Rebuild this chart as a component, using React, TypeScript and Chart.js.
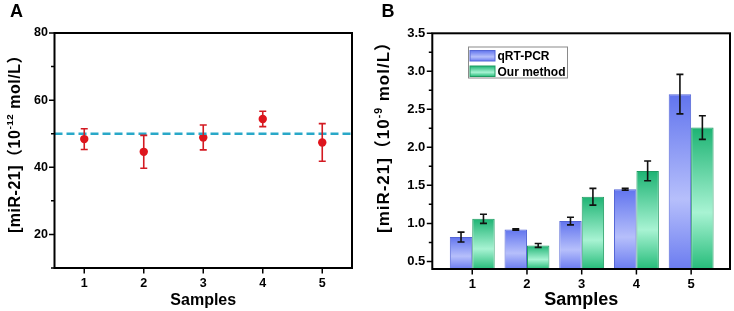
import React, { useEffect, useRef } from 'react';
import { Chart, registerables } from 'chart.js';

Chart.register(...registerables);

const FONT = '"Liberation Sans", Arial, Helvetica, "Noto Sans CJK SC", sans-serif';

// ---------- data ----------
const sampleLabels = [1, 2, 3, 4, 5];

// Panel A
const aMeasured = [48.4, 44.6, 48.9, 54.4, 47.4];
const aError = [3.1, 4.9, 3.7, 2.3, 5.6];
const aReference = 50;
const aYTicks = [20, 40, 60, 80];
const aYMinor = [10, 30, 50, 70];
const aXRange = [0.5, 5.5];
const aYRange = [10, 80];

// Panel B
const bSeriesNames = ['qRT-PCR', 'Our method'];
const bQrt = [0.82, 0.92, 1.03, 1.45, 2.7];
const bQrtErr = [0.065, 0.01, 0.05, 0.012, 0.26];
const bOurs = [1.06, 0.71, 1.35, 1.69, 2.26];
const bOursErr = [0.06, 0.025, 0.11, 0.13, 0.155];
const bYTicks = [0.5, 1.0, 1.5, 2.0, 2.5, 3.0, 3.5];
const bYMinor = [0.75, 1.25, 1.75, 2.25, 2.75, 3.25];
const bXRange = [0.27, 5.71];
const bYRange = [0.4, 3.5];

const blueStops: [number, string][] = [[0, '#6174ee'], [0.6, '#b6bffb'], [1, '#6b7cf0']];
const greenStops: [number, string][] = [[0, '#1db373'], [0.6, '#a8f3d3'], [1, '#26bc7a']];

// ---------- helpers ----------
function grad(ctx: CanvasRenderingContext2D, y0: number, y1: number, stops: [number, string][]) {
  const g = ctx.createLinearGradient(0, y0, 0, y1);
  stops.forEach(([o, c]) => g.addColorStop(o, c));
  return g;
}

function drawYTitle(
  ctx: CanvasRenderingContext2D,
  parts: { text: string; sup?: boolean }[],
  baselineX: number,
  bottomY: number,
  targetLen: number,
  size: number,
  supSize: number
) {
  ctx.save();
  ctx.translate(baselineX, bottomY);
  ctx.rotate(-Math.PI / 2);
  ctx.fillStyle = '#000';
  ctx.textBaseline = 'alphabetic';
  ctx.textAlign = 'left';
  let natural = 0;
  let chars = 0;
  parts.forEach((p) => {
    ctx.font = `bold ${p.sup ? supSize : size}px ${FONT}`;
    natural += ctx.measureText(p.text).width;
    chars += p.text.length;
  });
  const spacing = Math.max(0, (targetLen - natural) / chars);
  let x = 0;
  parts.forEach((p) => {
    ctx.font = `bold ${p.sup ? supSize : size}px ${FONT}`;
    const w = ctx.measureText(p.text).width;
    (ctx as any).letterSpacing = `${spacing}px`;
    ctx.fillText(p.text, x, p.sup ? -size * 0.42 : 0);
    (ctx as any).letterSpacing = '0px';
    x += w + spacing * p.text.length;
  });
  ctx.restore();
}

function framePlugin(cfg: {
  yMajor: number[];
  yMinor: number[];
  xMajor: number[];
  panel: string;
  panelX: number;
  xTitleSize: number;
  yParts: { text: string; sup?: boolean }[];
  yTitleX: number;
  yTitleBottom: number;
  yTitleLen: number;
  yTitleSize: number;
}) {
  return {
    id: 'frameAndText',
    afterDraw(chart: any) {
      const { ctx, chartArea: a, scales } = chart;
      ctx.save();
      ctx.strokeStyle = '#000';
      ctx.lineWidth = 2;
      ctx.strokeRect(a.left, a.top, a.right - a.left, a.bottom - a.top);
      ctx.lineWidth = 1.5;
      ctx.beginPath();
      cfg.yMajor.forEach((v) => {
        const py = scales.y.getPixelForValue(v);
        ctx.moveTo(a.left - 5.5, py);
        ctx.lineTo(a.left, py);
      });
      cfg.yMinor.forEach((v) => {
        const py = scales.y.getPixelForValue(v);
        ctx.moveTo(a.left - 3.5, py);
        ctx.lineTo(a.left, py);
      });
      cfg.xMajor.forEach((v) => {
        const px = scales.x.getPixelForValue(v);
        ctx.moveTo(px, a.bottom);
        ctx.lineTo(px, a.bottom + 5.5);
      });
      ctx.stroke();

      // panel letter
      ctx.fillStyle = '#000';
      ctx.font = `bold 18px ${FONT}`;
      ctx.textAlign = 'left';
      ctx.textBaseline = 'alphabetic';
      ctx.fillText(cfg.panel, cfg.panelX, 17);

      // x title
      ctx.font = `bold ${cfg.xTitleSize}px ${FONT}`;
      ctx.textAlign = 'center';
      ctx.fillText('Samples', (a.left + a.right) / 2, 304.5);
      ctx.restore();

      drawYTitle(ctx, cfg.yParts, cfg.yTitleX, cfg.yTitleBottom, cfg.yTitleLen, cfg.yTitleSize, cfg.yTitleSize * 0.62);
    },
  };
}

function errorBarPlugin(color: string, width: number, cap: number) {
  return {
    id: 'errorBars',
    afterDatasetsDraw(chart: any) {
      const { ctx, scales } = chart;
      ctx.save();
      ctx.strokeStyle = color;
      ctx.lineWidth = width;
      chart.data.datasets.forEach((ds: any, di: number) => {
        if (!ds.errors) return;
        const meta = chart.getDatasetMeta(di);
        meta.data.forEach((el: any, i: number) => {
          const v = ds.data[i].y;
          const e = ds.errors[i];
          const yt = scales.y.getPixelForValue(v + e);
          const yb = scales.y.getPixelForValue(v - e);
          const x = el.x;
          ctx.beginPath();
          ctx.moveTo(x, yt);
          ctx.lineTo(x, yb);
          ctx.moveTo(x - cap, yt);
          ctx.lineTo(x + cap, yt);
          ctx.moveTo(x - cap, yb);
          ctx.lineTo(x + cap, yb);
          ctx.stroke();
        });
      });
      ctx.restore();
    },
  };
}

const legendPlugin = {
  id: 'boxLegend',
  afterDraw(chart: any) {
    const { ctx } = chart;
    const box = { x: 101.5, y: 47, w: 99, h: 31 };
    ctx.save();
    ctx.fillStyle = '#fff';
    ctx.fillRect(box.x, box.y, box.w, box.h);
    ctx.strokeStyle = '#8a8a8a';
    ctx.lineWidth = 1;
    ctx.strokeRect(box.x, box.y, box.w, box.h);
    const rows = [
      { y: 50.5, stops: blueStops, border: '#5566d6' },
      { y: 66, stops: greenStops, border: '#1f9c62' },
    ];
    rows.forEach((r, i) => {
      ctx.fillStyle = grad(ctx, r.y, r.y + 10.5, r.stops);
      ctx.fillRect(103, r.y, 25, 10.5);
      ctx.strokeStyle = r.border;
      ctx.strokeRect(103, r.y, 25, 10.5);
      ctx.fillStyle = '#000';
      ctx.font = `bold 12px ${FONT}`;
      ctx.textAlign = 'left';
      ctx.textBaseline = 'alphabetic';
      ctx.fillText(bSeriesNames[i], 130.5, r.y + 9.5);
    });
    ctx.restore();
  },
};

const tickFont = (size: number) => ({ family: FONT, size, weight: 'bold' as const });

function PanelA() {
  const ref = useRef<HTMLCanvasElement>(null);
  useEffect(() => {
    const chart = new Chart(ref.current as HTMLCanvasElement, {
      type: 'scatter',
      data: {
        datasets: [
          {
            type: 'line',
            data: aXRange.map((x) => ({ x, y: aReference })),
            borderColor: '#29a8c8',
            borderWidth: 2.5,
            borderDash: [8, 4],
            pointRadius: 0,
            fill: false,
          } as any,
          {
            data: sampleLabels.map((s, i) => ({ x: s, y: aMeasured[i] })),
            errors: aError,
            backgroundColor: '#e2141c',
            borderColor: '#e2141c',
            pointRadius: 4.2,
            pointBorderWidth: 0,
          } as any,
        ],
      },
      options: {
        animation: false,
        responsive: false,
        layout: { padding: { top: 33, right: 15, left: 0, bottom: 0 } },
        plugins: { legend: { display: false }, tooltip: { enabled: false } },
        scales: {
          x: {
            type: 'linear',
            min: aXRange[0],
            max: aXRange[1],
            afterBuildTicks: (s: any) => {
              s.ticks = sampleLabels.map((v) => ({ value: v }));
            },
            afterFit: (s: any) => {
              s.height = 43;
            },
            grid: { display: false, drawTicks: false },
            border: { display: false },
            ticks: { padding: 8, color: '#000', font: tickFont(12.5), callback: (v: any) => String(v) },
          },
          y: {
            min: aYRange[0],
            max: aYRange[1],
            afterBuildTicks: (s: any) => {
              s.ticks = aYTicks.map((v) => ({ value: v }));
            },
            afterFit: (s: any) => {
              s.width = 54.5;
            },
            grid: { display: false, drawTicks: false },
            border: { display: false },
            ticks: { padding: 6.5, color: '#000', font: tickFont(12.5), callback: (v: any) => String(v) },
          },
        },
      },
      plugins: [
        errorBarPlugin('#d31a22', 1.6, 3.5),
        framePlugin({
          yMajor: aYTicks,
          yMinor: aYMinor,
          xMajor: sampleLabels,
          panel: 'A',
          panelX: 10,
          xTitleSize: 16,
          yParts: [{ text: '[miR-21]（10' }, { text: '-12', sup: true }, { text: ' mol/L）' }],
          yTitleX: 19.5,
          yTitleBottom: 233,
          yTitleLen: 186,
          yTitleSize: 16,
        }),
      ],
    });
    return () => chart.destroy();
  }, []);
  return <canvas ref={ref} width={367} height={311} style={{ position: 'absolute', left: 0, top: 0 }} />;
}

function PanelB() {
  const ref = useRef<HTMLCanvasElement>(null);
  useEffect(() => {
    const barBg = (stops: [number, string][], fallback: string) => (c: any) => {
      const chart = c.chart;
      if (!chart.chartArea || c.type !== 'data' || !chart.scales.y) return fallback;
      const y = chart.scales.y;
      const top = y.getPixelForValue(c.raw.y);
      const bot = y.getPixelForValue(bYRange[0]);
      return grad(chart.ctx, top, bot, stops);
    };
    const chart = new Chart(ref.current as HTMLCanvasElement, {
      type: 'bar',
      data: {
        datasets: [
          {
            label: bSeriesNames[0],
            data: sampleLabels.map((s, i) => ({ x: s, y: bQrt[i] })),
            errors: bQrtErr,
            base: bYRange[0],
            backgroundColor: barBg(blueStops, '#8d9bf3'),
            borderColor: '#5566d6',
            borderWidth: 1,
            categoryPercentage: 0.82,
            barPercentage: 1.0,
          } as any,
          {
            label: bSeriesNames[1],
            data: sampleLabels.map((s, i) => ({ x: s, y: bOurs[i] })),
            errors: bOursErr,
            base: bYRange[0],
            backgroundColor: barBg(greenStops, '#5fd6a0'),
            borderColor: '#1f9c62',
            borderWidth: 1,
            categoryPercentage: 0.82,
            barPercentage: 1.0,
          } as any,
        ],
      },
      options: {
        animation: false,
        responsive: false,
        layout: { padding: { top: 33.3, right: 4, left: 0, bottom: 0 } },
        plugins: { legend: { display: false }, tooltip: { enabled: false } },
        scales: {
          x: {
            type: 'linear',
            min: bXRange[0],
            max: bXRange[1],
            offset: false,
            afterBuildTicks: (s: any) => {
              s.ticks = sampleLabels.map((v) => ({ value: v }));
            },
            afterFit: (s: any) => {
              s.height = 42;
            },
            grid: { display: false, drawTicks: false, offset: false },
            border: { display: false },
            ticks: { padding: 8, color: '#000', font: tickFont(13), callback: (v: any) => String(v) },
          },
          y: {
            type: 'linear',
            min: bYRange[0],
            max: bYRange[1],
            afterBuildTicks: (s: any) => {
              s.ticks = bYTicks.map((v) => ({ value: v }));
            },
            afterFit: (s: any) => {
              s.width = 65.3;
            },
            grid: { display: false, drawTicks: false },
            border: { display: false },
            ticks: { padding: 7, color: '#000', font: tickFont(13), callback: (v: any) => Number(v).toFixed(1) },
          },
        },
      },
      plugins: [
        errorBarPlugin('#111', 1.6, 3.5),
        legendPlugin,
        framePlugin({
          yMajor: bYTicks,
          yMinor: bYMinor,
          xMajor: sampleLabels,
          panel: 'B',
          panelX: 14.5,
          xTitleSize: 18,
          yParts: [{ text: '[miR-21]（10' }, { text: '-9', sup: true }, { text: ' mol/L）' }],
          yTitleX: 22,
          yTitleBottom: 233,
          yTitleLen: 200,
          yTitleSize: 17,
        }),
      ],
    });
    return () => chart.destroy();
  }, []);
  return <canvas ref={ref} width={367} height={311} style={{ position: 'absolute', left: 367, top: 0 }} />;
}

export default function App() {
  return (
    <div style={{ position: 'absolute', left: 0, top: 0, width: 734, height: 311, background: '#fff', overflow: 'hidden' }}>
      <PanelA />
      <PanelB />
    </div>
  );
}
